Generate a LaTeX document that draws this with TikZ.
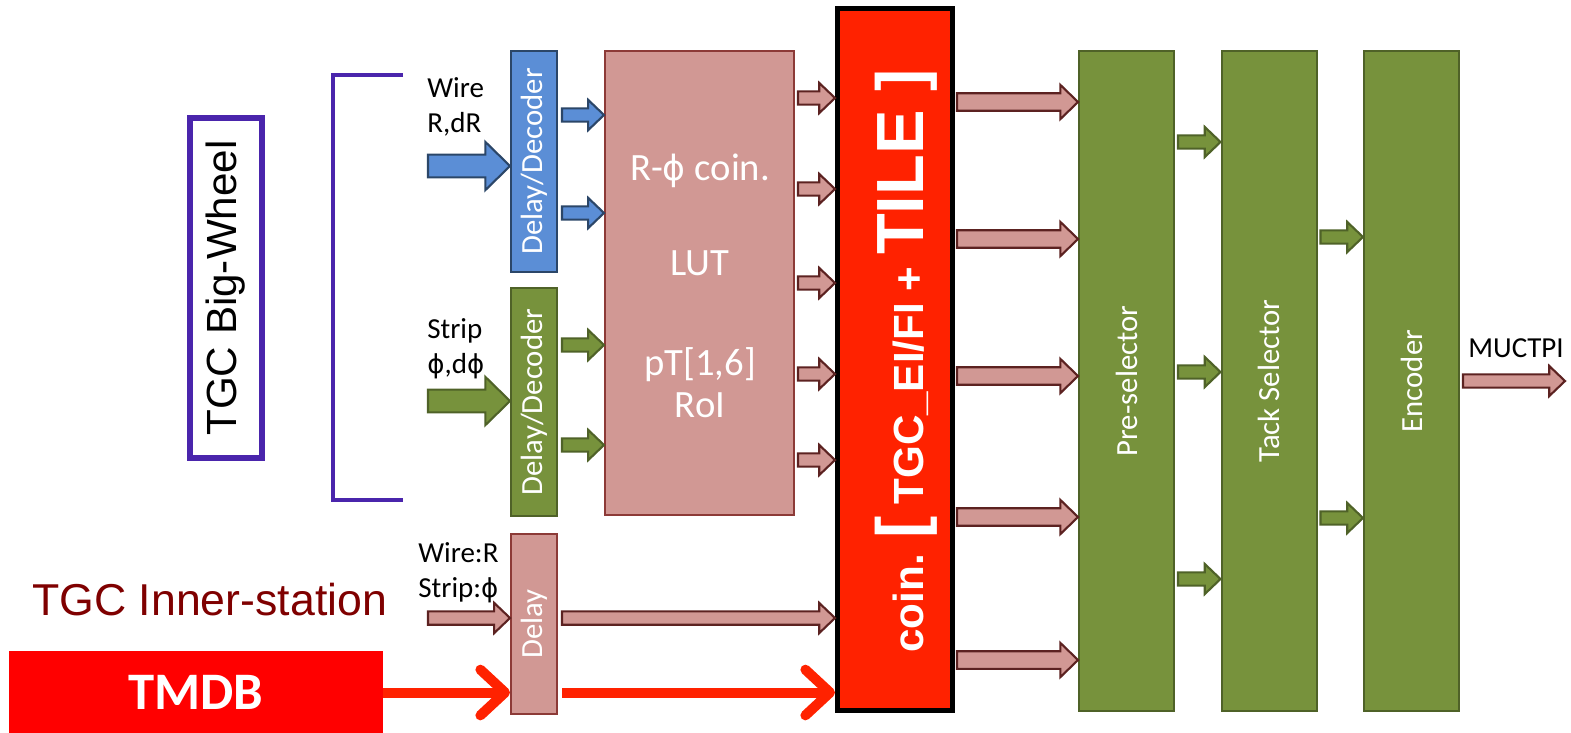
\documentclass[tikz,border=0pt]{standalone}
\usepackage{fontspec}
\setmainfont{Carlito}
\newfontfamily\arialf{Liberation Sans}
\newfontfamily\phifont{DejaVu Sans}
\usetikzlibrary{arrows.meta,calc}

\definecolor{wireblue}{HTML}{5B8ED6}
\definecolor{wireedge}{HTML}{2B4668}
\definecolor{stripgreen}{HTML}{77923C}
\definecolor{stripedge}{HTML}{4F6228}
\definecolor{coinpink}{HTML}{D19894}
\definecolor{coinedge}{HTML}{8C3A37}
\definecolor{arrowedge}{HTML}{5C2221}
\definecolor{coinred}{HTML}{FF2200}
\definecolor{wheelpurple}{HTML}{4A25AC}
\definecolor{innerred}{HTML}{7F0000}

\newcommand{\pu}{0.2mm}
\newcommand{\straightphi}{{\phifont\scalebox{0.9}{ϕ}}}

\tikzset{
	fat/.style n args={3}{to path={let \p1=(\tikztostart), \p2=(\tikztotarget) in
		(\x1,\y1+#1) -- (\x2-#3,\y1+#1) -- (\x2-#3,\y1+#2) -- (\x2,\y1)
		-- (\x2-#3,\y1-#2) -- (\x2-#3,\y1-#1) -- (\x1,\y1-#1) -- cycle}},
	bigarrow/.style={fat={6.5pt}{13.7pt}{14pt}},
	smallarrow/.style={fat={3.8pt}{8.6pt}{9pt}},
	outarrow/.style={fat={5pt}{9.7pt}{10pt}},
	blueflow/.style={fill=wireblue, draw=wireedge, line width=1.2pt},
	greenflow/.style={fill=stripgreen, draw=stripedge, line width=1.2pt},
	pinkflow/.style={fill=coinpink, draw=arrowedge, line width=1.2pt},
	redflow/.style={draw=coinred, line width=10*\pu, -{Straight Barb[length=14pt,width=26pt,round]}},
	box/.style={draw, line width=2*\pu, inner sep=0pt, minimum width=46*\pu},
	vtext/.style={rotate=90, text=white, font=\fontsize{17.5}{20}\selectfont},
	sidetext/.style={align=left, inner sep=0pt, font=\fontsize{16.5}{20}\selectfont},
}

\begin{document}
\begin{tikzpicture}[x=\pu, y=-\pu]
	\useasboundingbox (0,0) rectangle (1571,732);

	% TGC big wheel
	\node[draw=wheelpurple, line width=6*\pu, rotate=90, minimum width=340*\pu, minimum height=72*\pu, font=\arialf\fontsize{24}{28}\selectfont] (bigwheel) at (225.5,288) {TGC Big-Wheel};
	\draw[wheelpurple, line width=4.5*\pu] (403,75) -- (333,75) -- (333,500) -- (403,500);

	\node[sidetext, anchor=north west] (wirelabel) at (427,77) {Wire\\R,dR};
	\node[sidetext, anchor=north west] (striplabel) at (427,318) {Strip\\\straightphi,d\straightphi};
	\node[sidetext, anchor=north west] (innerlabel) at (418,542) {Wire:R\\Strip:\straightphi};
	\node[anchor=base west, inner sep=0pt, text=innerred, font=\arialf\fontsize{25.4}{30}\selectfont] (innername) at (32,615) {TGC Inner-station};
	\node[fill=red, minimum width=374*\pu, minimum height=83*\pu, text=white, font=\bfseries\fontsize{30}{34}\selectfont] (tmdb) at (196,692.5) {TMDB};

	% delay / decoder stage
	\node[box, fill=wireblue, draw=wireedge, minimum height=221*\pu, label={[vtext]center:Delay/Decoder}] (wiredec) at (534,161.5) {};
	\node[box, fill=stripgreen, draw=stripedge, minimum height=228*\pu, label={[vtext]center:Delay/Decoder}] (stripdec) at (534,402) {};
	\node[box, fill=coinpink, draw=coinedge, minimum height=180*\pu, label={[vtext]center:Delay}] (delaybox) at (534,624) {};

	\node[box, fill=coinpink, draw=coinedge, minimum width=189*\pu, minimum height=464*\pu] (coinlut) at (699.5,283) {};
	\node[text=white, align=center, font=\fontsize{22}{24}\selectfont] (luttext) at (700,286) {R-\straightphi{} coin.\\[30pt]LUT\\[33pt]pT[1,6]\\RoI};

	\node[box, fill=coinred, draw=black, line width=5*\pu, minimum width=115*\pu, minimum height=702*\pu] (coinbox) at (895,359.5) {};
	\node[rotate=90, anchor=base, inner sep=0pt, text=white, font=\arialf\bfseries\fontsize{24}{28}\selectfont] (cointext) at (923,361) {coin. {\fontsize{38}{40}\selectfont [} TGC\_EI/FI + {\fontsize{38}{40}\selectfont TILE ]}};

	\foreach \name/\cx/\txt in {presel/1126.5/Pre-selector, tacksel/1269/Tack Selector, encoder/1411.5/Encoder}
		\node[box, fill=stripgreen, draw=stripedge, minimum width=95*\pu, minimum height=660*\pu, label={[vtext]center:\txt}] (\name) at (\cx,381) {};

	\node[sidetext, anchor=base west] (muctpilabel) at (1468,357) {MUCTPI};

	% arrows
	\coordinate (wirein) at (428,166);
	\coordinate (stripin) at (428,401);
	\coordinate (innerin) at (428,618);
	\coordinate (muctpi) at (1565,381);
	\coordinate (redmid) at (tmdb.east -| delaybox.east);

	\draw[bigarrow, blueflow] (wirein) to (wiredec.west);
	\draw[bigarrow, greenflow] (stripin) to (stripdec.west);
	\draw[smallarrow, pinkflow] (innerin) to (delaybox.west);
	\foreach \dy in {-46.5,51.5}
		\draw[smallarrow, blueflow] ([shift={(4,\dy)}]wiredec.east) to (coinlut.west);
	\foreach \dy in {-57,43}
		\draw[smallarrow, greenflow] ([shift={(4,\dy)}]stripdec.east) to (coinlut.west);
	\foreach \dy in {-185,-94,0,91,177}
		\draw[smallarrow, pinkflow] ([shift={(3,\dy)}]coinlut.east) to (coinbox.west);
	\draw[smallarrow, pinkflow] ([shift={(4,-6)}]delaybox.east) to (coinbox.west);
	\foreach \dy in {-257.5,-120.5,16.5,157.5,300.5}
		\draw[outarrow, pinkflow] ([shift={(2,\dy)}]coinbox.east) to (presel.west);
	\foreach \dy in {-239,-9,198}
		\draw[smallarrow, greenflow] ([shift={(3,\dy)}]presel.east) to (tacksel.west);
	\foreach \dy in {-144,137}
		\draw[smallarrow, greenflow] ([shift={(3,\dy)}]tacksel.east) to (encoder.west);
	\draw[smallarrow, pinkflow] ([xshift=3*\pu]encoder.east) to (muctpi);

	\draw[redflow] (tmdb.east) -- (tmdb.east -| delaybox.west);
	\draw[redflow] ([xshift=4*\pu]redmid) -- (tmdb.east -| coinbox.west);
\end{tikzpicture}
\end{document}
